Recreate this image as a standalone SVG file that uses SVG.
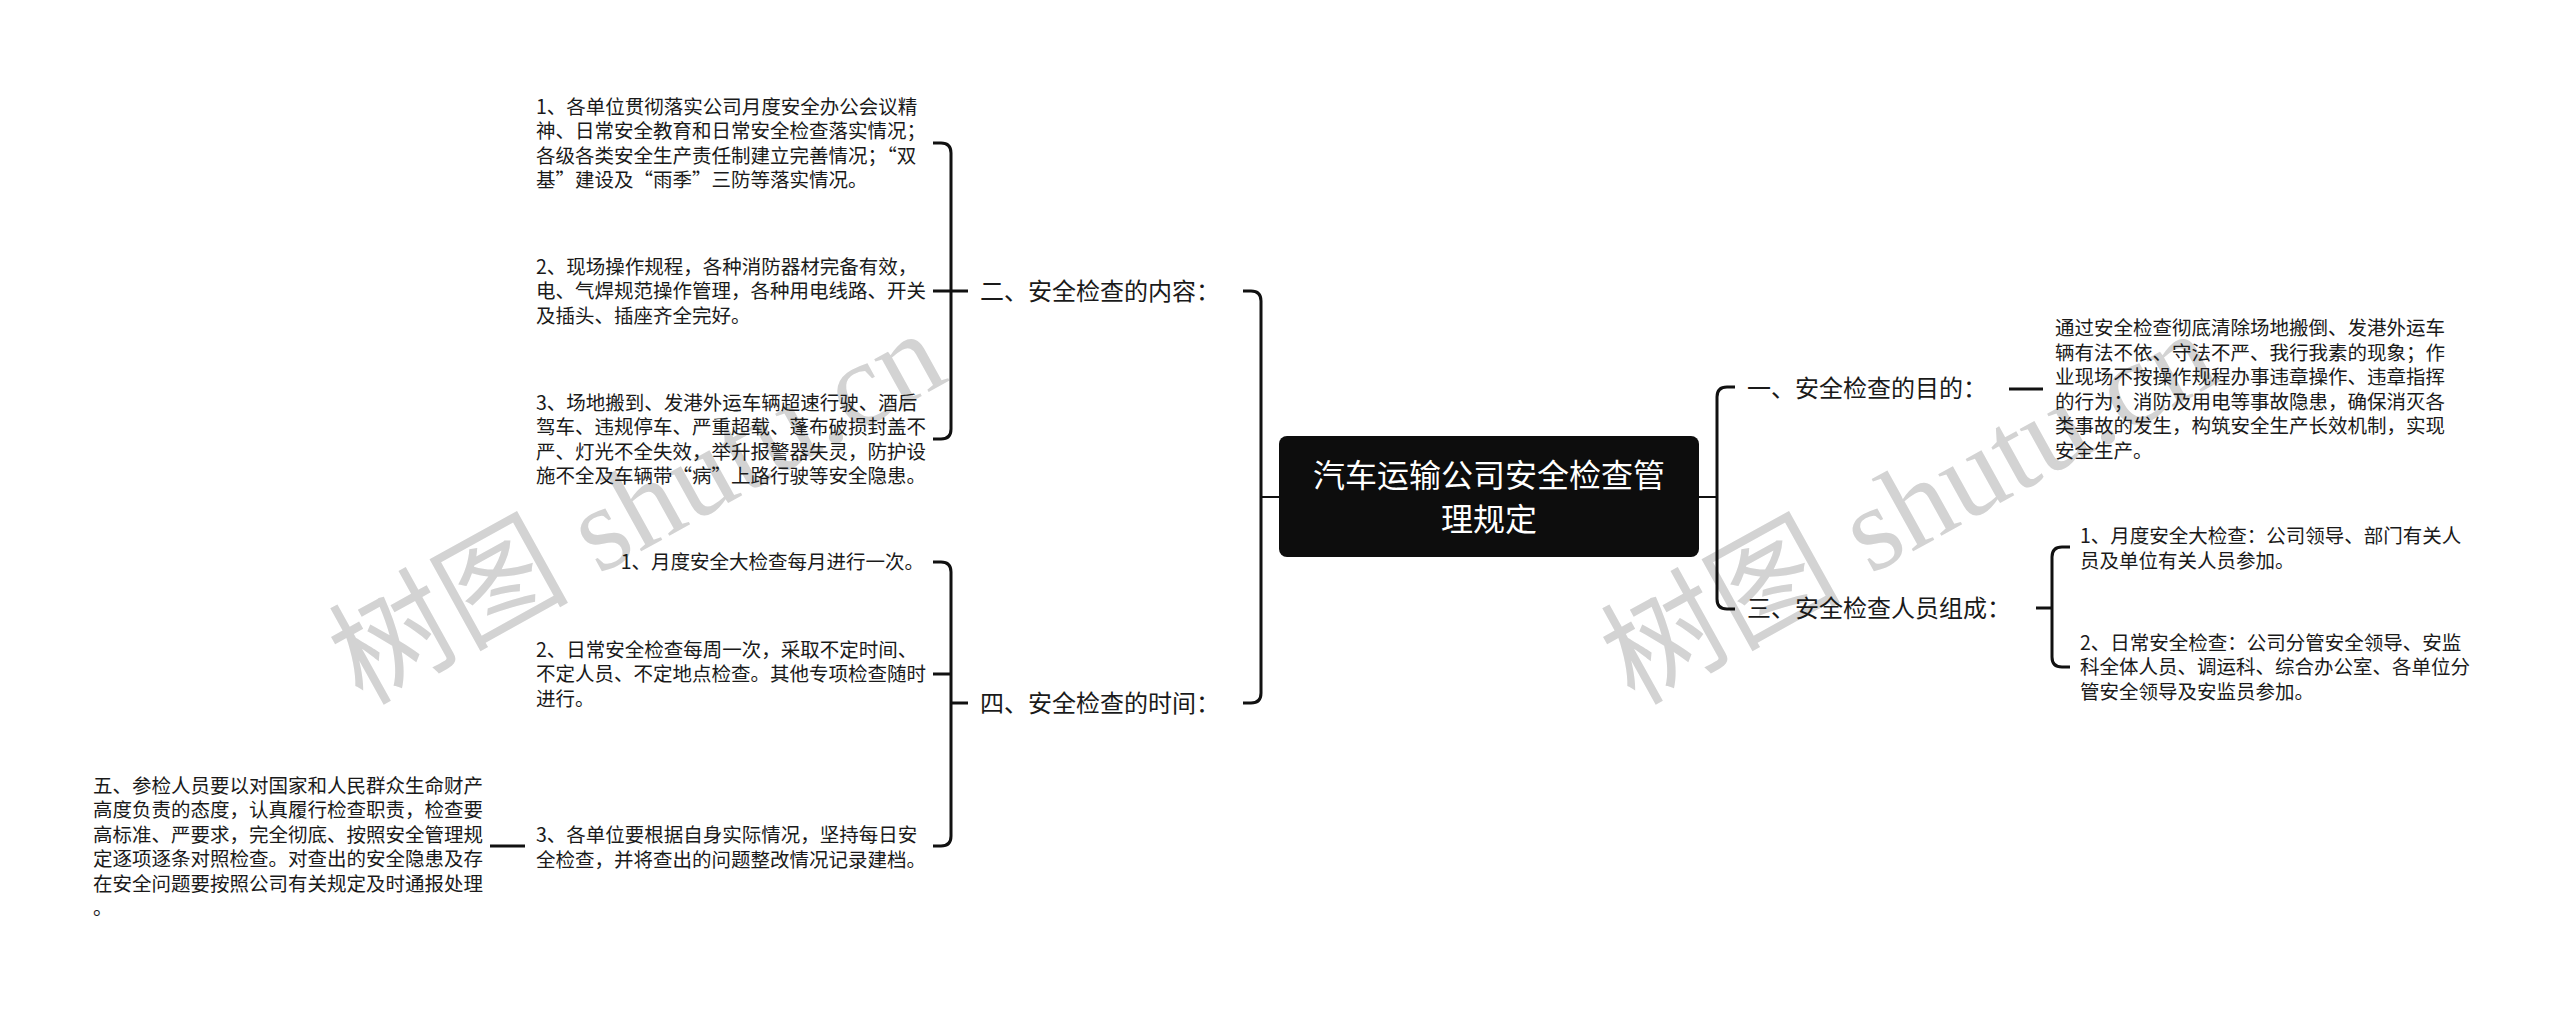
<svg xmlns="http://www.w3.org/2000/svg" width="2560" height="1013" viewBox="0 0 2560 1013">
<style>
  text { font-family: "Noto Sans CJK SC", "Noto Sans", sans-serif; fill: #1a1a1a; }
  .t { font-size: 19.5px; }
  .l1 { font-size: 24px; }
  .root { font-size: 32px; fill: #ffffff; }
  .wm { font-family: "Liberation Serif", "Noto Sans CJK SC", serif; font-size: 120px; fill: #d3d3d3; }
  .c { fill: none; stroke: #111111; stroke-width: 3; stroke-linecap: butt; }
  .c2 { fill: none; stroke: #111111; stroke-width: 2; }
</style>
<rect x="0" y="0" width="2560" height="1013" fill="#ffffff"/>
<g id="watermarks">
  <text class="wm" transform="translate(362,706) rotate(-29)">树图 shutu.cn</text>
  <text class="wm" transform="translate(1634,706) rotate(-29)">树图 shutu.cn</text>
</g>
<g id="connectors">
  <path class="c2" d="M 1261 497 H 1279"/>
  <path class="c2" d="M 1698 497 H 1717"/>
  <path class="c" d="M 1243 291 H 1251 Q 1261 291 1261 301 V 693 Q 1261 703 1251 703 H 1243"/>
  <path class="c" d="M 1735 387 H 1727 Q 1717 387 1717 397 V 599 Q 1717 609 1727 609 H 1735"/>
  <path class="c" d="M 933 143 H 941 Q 951 143 951 153 V 429 Q 951 439 941 439 H 933"/>
  <path class="c" d="M 933 291 H 968"/>
  <path class="c" d="M 933 562 H 941 Q 951 562 951 572 V 836 Q 951 846 941 846 H 933"/>
  <path class="c" d="M 933 674 H 951"/>
  <path class="c" d="M 951 703 H 968"/>
  <path class="c" d="M 490 846 H 525"/>
  <path class="c" d="M 2009 389 H 2043"/>
  <path class="c" d="M 2036 608 H 2052"/>
  <path class="c" d="M 2070 547 H 2062 Q 2052 547 2052 557 V 657 Q 2052 667 2062 667 H 2070"/>
</g>
<g id="root">
  <rect x="1279" y="436" width="420" height="121" rx="8" fill="#0d0d0d"/>
  <text class="root" x="1489" y="487" text-anchor="middle">汽车运输公司安全检查管</text>
  <text class="root" x="1489" y="531" text-anchor="middle">理规定</text>
</g>
<g id="n2">
  <text class="l1" x="980" y="300">二、安全检查的内容：</text>
</g>
<g id="n2-1">
  <text class="t" x="536" y="113.7">1、各单位贯彻落实公司月度安全办公会议精</text>
  <text class="t" x="536" y="138.2">神、日常安全教育和日常安全检查落实情况；</text>
  <text class="t" x="536" y="162.7">各级各类安全生产责任制建立完善情况；“双</text>
  <text class="t" x="536" y="187.2">基”建设及“雨季”三防等落实情况。</text>
</g>
<g id="n2-2">
  <text class="t" x="536" y="273.9">2、现场操作规程，各种消防器材完备有效，</text>
  <text class="t" x="536" y="298.4">电、气焊规范操作管理，各种用电线路、开关</text>
  <text class="t" x="536" y="322.9">及插头、插座齐全完好。</text>
</g>
<g id="n2-3">
  <text class="t" x="536" y="409.7">3、场地搬到、发港外运车辆超速行驶、酒后</text>
  <text class="t" x="536" y="434.2">驾车、违规停车、严重超载、蓬布破损封盖不</text>
  <text class="t" x="536" y="458.7">严、灯光不全失效，举升报警器失灵，防护设</text>
  <text class="t" x="536" y="483.2">施不全及车辆带“病”上路行驶等安全隐患。</text>
</g>
<g id="n4">
  <text class="l1" x="980" y="712">四、安全检查的时间：</text>
</g>
<g id="n4-1">
  <text class="t" x="924" y="569.4" text-anchor="end">1、月度安全大检查每月进行一次。</text>
</g>
<g id="n4-2">
  <text class="t" x="536" y="656.9">2、日常安全检查每周一次，采取不定时间、</text>
  <text class="t" x="536" y="681.4">不定人员、不定地点检查。其他专项检查随时</text>
  <text class="t" x="536" y="705.9">进行。</text>
</g>
<g id="n4-3">
  <text class="t" x="536" y="842.2">3、各单位要根据自身实际情况，坚持每日安</text>
  <text class="t" x="536" y="866.7">全检查，并将查出的问题整改情况记录建档。</text>
</g>
<g id="n5">
  <text class="t" x="93" y="792.6">五、参检人员要以对国家和人民群众生命财产</text>
  <text class="t" x="93" y="817.1">高度负责的态度，认真履行检查职责，检查要</text>
  <text class="t" x="93" y="841.6">高标准、严要求，完全彻底、按照安全管理规</text>
  <text class="t" x="93" y="866.1">定逐项逐条对照检查。对查出的安全隐患及存</text>
  <text class="t" x="93" y="890.6">在安全问题要按照公司有关规定及时通报处理</text>
  <text class="t" x="93" y="915.1">。</text>
</g>
<g id="n1">
  <text class="l1" x="1747" y="397">一、安全检查的目的：</text>
</g>
<g id="n1-1">
  <text class="t" x="2055" y="335.2">通过安全检查彻底清除场地搬倒、发港外运车</text>
  <text class="t" x="2055" y="359.7">辆有法不依、守法不严、我行我素的现象；作</text>
  <text class="t" x="2055" y="384.2">业现场不按操作规程办事违章操作、违章指挥</text>
  <text class="t" x="2055" y="408.7">的行为；消防及用电等事故隐患，确保消灭各</text>
  <text class="t" x="2055" y="433.2">类事故的发生，构筑安全生产长效机制，实现</text>
  <text class="t" x="2055" y="457.7">安全生产。</text>
</g>
<g id="n3">
  <text class="l1" x="1747" y="617">三、安全检查人员组成：</text>
</g>
<g id="n3-1">
  <text class="t" x="2080" y="543.2">1、月度安全大检查：公司领导、部门有关人</text>
  <text class="t" x="2080" y="567.7">员及单位有关人员参加。</text>
</g>
<g id="n3-2">
  <text class="t" x="2080" y="649.9">2、日常安全检查：公司分管安全领导、安监</text>
  <text class="t" x="2080" y="674.4">科全体人员、调运科、综合办公室、各单位分</text>
  <text class="t" x="2080" y="698.9">管安全领导及安监员参加。</text>
</g>
</svg>
